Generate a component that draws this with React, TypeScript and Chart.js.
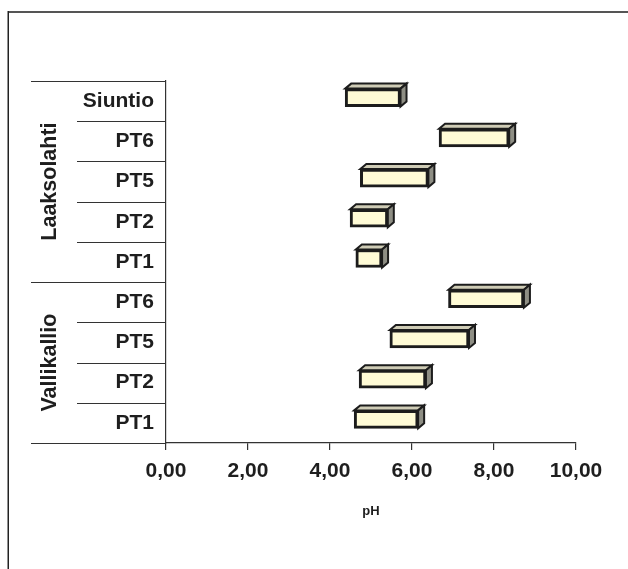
import { useEffect, useRef } from 'react';
import { Chart, registerables } from 'chart.js';

Chart.register(...registerables);

// pH ranges per sampling point (low / high end of each bar)
const categories = ['Siuntio', 'PT6', 'PT5', 'PT2', 'PT1', 'PT6', 'PT5', 'PT2', 'PT1'];
const phMin = [4.37, 6.66, 4.74, 4.49, 4.63, 6.89, 5.46, 4.71, 4.59];
const phMax = [5.72, 8.37, 6.40, 5.41, 5.27, 8.73, 7.39, 6.34, 6.15];

// Site groups along the category axis, top to bottom
const groupNames = ['Laaksolahti', 'Vallikallio'];
const groupSizes = [5, 4];

// Value axis ticks
const xTicks = [0, 2, 4, 6, 8, 10];
const axisTitle = 'pH';

const FONT = '"Liberation Sans", Arial, Helvetica, sans-serif';
const INK = '#1e1e1e';
const RULE = '#333333';
const FRONT = '#FFFBD6';
const TOP_FACE = '#CFCCB6';
const SIDE_FACE = '#8E8E84';
const EDGE = '#1C1C1C';

const DEPTH_X = 6;
const DEPTH_Y = 5;
const LIFT = 3.5;

const CANVAS_W = 628;
const CANVAS_H = 569;

// White page with the frame lines along the top and left edges
const pageFrame = {
  id: 'pageFrame',
  beforeDraw(chart: any) {
    const { ctx, width, height } = chart;
    ctx.save();
    ctx.fillStyle = '#ffffff';
    ctx.fillRect(0, 0, width, height);
    ctx.strokeStyle = '#555555';
    ctx.lineWidth = 2;
    ctx.beginPath();
    ctx.moveTo(8, 12);
    ctx.lineTo(width, 12);
    ctx.stroke();
    ctx.strokeStyle = '#222222';
    ctx.lineWidth = 1.5;
    ctx.beginPath();
    ctx.moveTo(8.25, 11);
    ctx.lineTo(8.25, height);
    ctx.stroke();
    ctx.restore();
  },
};

// Top and side faces that give each bar its box look
const boxFaces = {
  id: 'boxFaces',
  beforeDatasetsDraw(chart: any) {
    chart.ctx.save();
    chart.ctx.translate(0, -LIFT);
  },
  afterDatasetsDraw(chart: any) {
    const ctx = chart.ctx;
    const meta = chart.getDatasetMeta(0);
    ctx.lineJoin = 'miter';
    meta.data.forEach((bar: any) => {
      const { x, base, y, height } = bar.getProps(['x', 'base', 'y', 'height'], true);
      const x0 = Math.min(x, base);
      const x1 = Math.max(x, base);
      const top = y - height / 2;
      const bottom = y + height / 2;

      ctx.beginPath();
      ctx.moveTo(x0, top);
      ctx.lineTo(x0 + DEPTH_X, top - DEPTH_Y);
      ctx.lineTo(x1 + DEPTH_X, top - DEPTH_Y);
      ctx.lineTo(x1, top);
      ctx.closePath();
      ctx.fillStyle = TOP_FACE;
      ctx.fill();
      ctx.strokeStyle = EDGE;
      ctx.lineWidth = 2;
      ctx.stroke();

      ctx.beginPath();
      ctx.moveTo(x1, top);
      ctx.lineTo(x1 + DEPTH_X, top - DEPTH_Y);
      ctx.lineTo(x1 + DEPTH_X, bottom - DEPTH_Y);
      ctx.lineTo(x1, bottom);
      ctx.closePath();
      ctx.fillStyle = SIDE_FACE;
      ctx.fill();
      ctx.stroke();
    });
    ctx.restore();
  },
};

// Row separators and rotated group names left of the category axis
const groupAxis = {
  id: 'groupAxis',
  afterDraw(chart: any) {
    const { ctx, scales } = chart;
    const yScale = scales.y;
    const left = chart.chartArea.left;
    const band = yScale.getPixelForValue(1) - yScale.getPixelForValue(0);
    const boundary = (k: number) => yScale.getPixelForValue(k) - band / 2;

    const majors = new Set<number>([0]);
    let acc = 0;
    groupSizes.forEach((n) => {
      acc += n;
      majors.add(acc);
    });

    ctx.save();
    ctx.strokeStyle = RULE;
    ctx.lineWidth = 1.2;
    for (let k = 0; k <= categories.length; k++) {
      const yy = Math.round(boundary(k)) + 0.5;
      ctx.beginPath();
      ctx.moveTo(majors.has(k) ? 31 : 77, yy);
      ctx.lineTo(left, yy);
      ctx.stroke();
    }

    ctx.fillStyle = INK;
    ctx.font = `bold 21.5px ${FONT}`;
    ctx.textAlign = 'center';
    ctx.textBaseline = 'middle';
    let start = 0;
    groupNames.forEach((name, g) => {
      const end = start + groupSizes[g];
      const cy = (boundary(start) + boundary(end)) / 2;
      ctx.save();
      ctx.translate(49, cy);
      ctx.rotate(-Math.PI / 2);
      ctx.fillText(name, 0, 1);
      ctx.restore();
      start = end;
    });
    ctx.restore();
  },
};

export default function App() {
  const canvasRef = useRef<HTMLCanvasElement | null>(null);

  useEffect(() => {
    const canvas = canvasRef.current;
    if (!canvas) return;

    const chart = new Chart(canvas, {
      type: 'bar',
      data: {
        labels: categories,
        datasets: [
          {
            data: categories.map((_, i) => [phMin[i], phMax[i]]),
            backgroundColor: FRONT,
            borderColor: EDGE,
            borderWidth: 3,
            borderSkipped: false,
            barThickness: 18,
          },
        ],
      },
      options: {
        indexAxis: 'y',
        responsive: false,
        animation: false,
        devicePixelRatio: 1,
        layout: { padding: { left: 0, top: 81, right: 52, bottom: 0 } },
        plugins: {
          legend: { display: false },
          tooltip: { enabled: false },
        },
        scales: {
          x: {
            type: 'linear',
            min: 0,
            max: 10,
            afterBuildTicks: (scale: any) => {
              scale.ticks = xTicks.map((v) => ({ value: v }));
            },
            ticks: {
              color: INK,
              font: { family: FONT, size: 21, weight: 'bold' },
              padding: 9,
              maxRotation: 0,
              callback: (v: any) => Number(v).toFixed(2).replace('.', ','),
            },
            grid: {
              drawOnChartArea: false,
              drawTicks: true,
              tickLength: 7,
              color: RULE,
              lineWidth: 1.2,
            },
            border: { display: true, color: RULE, width: 1.2 },
            title: {
              display: true,
              text: axisTitle,
              color: INK,
              font: { family: FONT, size: 13, weight: 'bold' },
              padding: { top: 0, bottom: 50 },
            },
            afterFit: (scale: any) => {
              scale.height = 126;
            },
          },
          y: {
            type: 'category',
            offset: true,
            grid: { display: false, drawTicks: false },
            border: { display: true, color: RULE, width: 1.2 },
            ticks: {
              color: INK,
              font: { family: FONT, size: 21, weight: 'bold' },
              padding: 12,
              autoSkip: false,
            },
            afterFit: (scale: any) => {
              scale.width = 166;
            },
          },
        },
      },
      plugins: [pageFrame, boxFaces, groupAxis],
    } as any);

    return () => chart.destroy();
  }, []);

  return (
    <div style={{ position: 'absolute', left: 0, top: 0, width: CANVAS_W, height: CANVAS_H }}>
      <canvas ref={canvasRef} width={CANVAS_W} height={CANVAS_H} />
    </div>
  );
}
